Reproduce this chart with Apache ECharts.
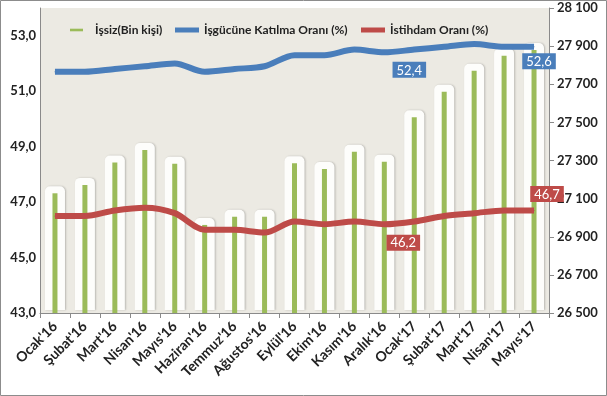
<!DOCTYPE html>
<html>
<head>
<meta charset="utf-8">
<script src="https://cdn.jsdelivr.net/npm/echarts@6/dist/echarts.min.js"></script>
<style>
  html, body { margin: 0; padding: 0; background: #fff; }
  #chart { width: 607px; height: 396px; }
</style>
</head>
<body>
<div id="chart"></div>
<script>
// aylar
var months = ["Ocak'16", "Şubat'16", "Mart'16", "Nisan'16", "Mayıs'16", "Haziran'16", "Temmuz'16", "Ağustos'16", "Eylül'16", "Ekim'16", "Kasım'16", "Aralık'16", "Ocak'17", "Şubat'17", "Mart'17", "Nisan'17", "Mayıs'17"]
// sag eksen (bin kisi)
var issiz = [27128, 27172, 27289, 27355, 27283, 26962, 27005, 27005, 27285, 27255, 27346, 27294, 27527, 27661, 27771, 27850, 27880]
// sol eksen (%)
var katilma = [51.7, 51.7, 51.8, 51.9, 52.0, 51.7, 51.8, 51.9, 52.3, 52.3, 52.5, 52.4, 52.5, 52.6, 52.7, 52.6, 52.6]
var istihdam = [46.5, 46.5, 46.7, 46.8, 46.6, 46.0, 46.0, 45.9, 46.3, 46.2, 46.3, 46.2, 46.3, 46.5, 46.6, 46.7, 46.7]
var seriesNames = ['İşsiz(Bin kişi)', 'İşgücüne Katılma Oranı (%)', 'İstihdam Oranı (%)']

var FONT = 'Lato, "Open Sans", sans-serif'
var BLUE = '#4A7EBB'
var RED = '#BE4B48'
var GREEN = '#9BBB59'
var RIGHT_MIN = 26500

// etiketli noktalar
function withLabels (arr, labels) {
  return arr.map(function (v, i) {
    if (!labels[i]) return v
    return { value: v, label: Object.assign({ show: true }, labels[i]) }
  })
}

var labelBase = {
  show: false,
  color: '#fff',
  fontFamily: FONT,
  fontSize: 13,
  padding: [2, 4, 1, 4],
  formatter: function (p) { return p.value.toFixed(1).replace('.', ',') }
}

// cubugun arkasindaki beyaz parlama
function renderGlow (params, api) {
  var top = api.coord([api.value(0), api.value(1)])
  var base = api.coord([api.value(0), RIGHT_MIN])
  return {
    type: 'rect',
    shape: { x: top[0] - 10, y: top[1] - 7, width: 20, height: base[1] - top[1] + 4, r: [5, 5, 0, 0] },
    style: {
      fill: '#fdfdfb',
      shadowColor: 'rgba(0,0,0,0.22)',
      shadowBlur: 2,
      shadowOffsetX: 1
    }
  }
}

// lejant (her oge ayri konumda)
var legendText = { fontFamily: FONT, fontSize: 12, fontWeight: 'bold', color: '#222' }
function legendAt (left, name, icon, w, pad) {
  return {
    left: left,
    top: 19,
    itemWidth: w,
    itemHeight: 12,
    textStyle: Object.assign({ padding: [0, 0, 0, pad] }, legendText),
    data: [{ name: name, icon: icon }]
  }
}

var chart = echarts.init(document.getElementById('chart'))
var option = {
  backgroundColor: '#fff',
  animation: false,
  textStyle: { fontFamily: FONT },
  graphic: [{
    type: 'rect',
    shape: { x: 0.5, y: 0.5, width: 606, height: 395 },
    style: { fill: 'none', stroke: '#8c8c8c', lineWidth: 1 },
    z: 100
  }],
  grid: {
    left: 40,
    right: 58,
    top: 8,
    bottom: 83,
    show: true,
    backgroundColor: '#ECEAE3',
    borderWidth: 0
  },
  legend: [
    legendAt(65, seriesNames[0], 'path://M0,0H13V2.6H0Z', 13, 7),
    legendAt(170, seriesNames[1], 'path://M0,0H24V5H0Z', 24, 0),
    legendAt(356, seriesNames[2], 'path://M0,0H24V5H0Z', 24, 0)
  ],
  xAxis: {
    type: 'category',
    data: months,
    z: 5,
    axisLine: { lineStyle: { color: '#8a8a8a' } },
    axisTick: { show: true, length: 5, lineStyle: { color: '#8a8a8a' } },
    axisLabel: {
      rotate: 45,
      interval: 0,
      margin: 11,
      fontFamily: FONT,
      fontSize: 14,
      fontWeight: 'bold',
      color: '#222'
    }
  },
  yAxis: [
    {
      type: 'value',
      min: 43,
      max: 54,
      interval: 2,
      axisLine: { show: true, lineStyle: { color: '#8a8a8a' } },
      axisTick: { show: false },
      splitLine: { show: false },
      axisLabel: {
        showMaxLabel: false,
        margin: 4,
        fontFamily: FONT,
        fontSize: 13,
        fontWeight: 'bold',
        color: '#222',
        formatter: function (v) { return v.toFixed(1).replace('.', ',') }
      }
    },
    {
      type: 'value',
      min: RIGHT_MIN,
      max: 28100,
      interval: 200,
      position: 'right',
      axisLine: { show: true, lineStyle: { color: '#8a8a8a' } },
      axisTick: { show: true, length: 5, lineStyle: { color: '#8a8a8a' } },
      splitLine: { show: false },
      axisLabel: {
        margin: 8,
        fontFamily: FONT,
        fontSize: 13,
        fontWeight: 'bold',
        color: '#222',
        formatter: function (v) { return String(v).replace(/\B(?=(\d{3})+(?!\d))/g, ' ') }
      }
    }
  ],
  series: [
    {
      name: 'glow',
      type: 'custom',
      yAxisIndex: 1,
      silent: true,
      renderItem: renderGlow,
      data: issiz.map(function (v, i) { return [i, v] }),
      z: 1
    },
    {
      name: seriesNames[0],
      type: 'bar',
      yAxisIndex: 1,
      data: issiz,
      barWidth: 5,
      itemStyle: { color: GREEN },
      z: 2
    },
    {
      name: seriesNames[1],
      type: 'line',
      yAxisIndex: 0,
      data: withLabels(katilma, {
        11: { position: 'bottom', distance: 5, offset: [25, 4], backgroundColor: BLUE },
        16: { position: 'bottom', distance: 6, offset: [5, 0], backgroundColor: BLUE }
      }),
      smooth: 0.3,
      symbol: 'circle',
      symbolSize: 1,
      lineStyle: { color: BLUE, width: 6 },
      itemStyle: { color: BLUE },
      label: labelBase,
      z: 4
    },
    {
      name: seriesNames[2],
      type: 'line',
      yAxisIndex: 0,
      data: withLabels(istihdam, {
        11: { position: 'bottom', distance: 8, offset: [19, 2], backgroundColor: RED },
        16: { position: 'top', distance: 8, offset: [13, 0], backgroundColor: RED }
      }),
      smooth: 0.3,
      symbol: 'circle',
      symbolSize: 1,
      lineStyle: { color: RED, width: 6 },
      itemStyle: { color: RED },
      label: labelBase,
      z: 4
    }
  ]
}
chart.setOption(option)
</script>
</body>
</html>
